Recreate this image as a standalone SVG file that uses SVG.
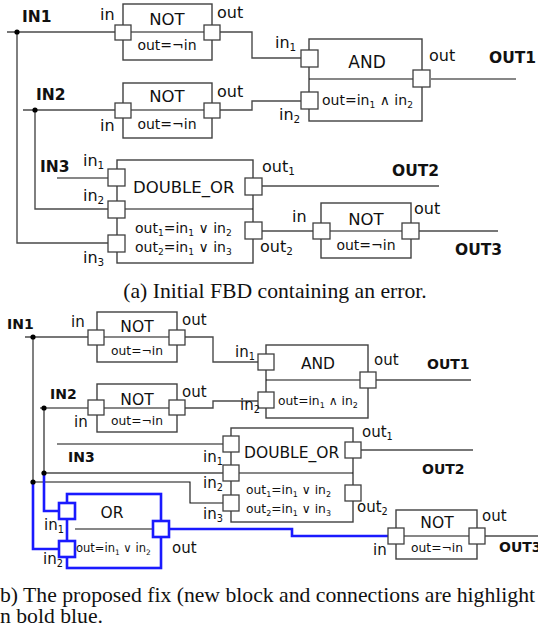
<svg xmlns="http://www.w3.org/2000/svg" width="538" height="631" viewBox="0 0 538 631">
<style>
.blk{fill:#fff;stroke:#404040;stroke-width:1.4}
.bblk{fill:none;stroke:#1a1aff;stroke-width:2.6}
.port{fill:#fff;stroke:#404040;stroke-width:1.3}
.bport{fill:#fff;stroke:#1a1aff;stroke-width:2.6}
.w{fill:none;stroke:#4a4a4a;stroke-width:1.4}
.k{fill:none;stroke:#111;stroke-width:1.1}
.bw{fill:none;stroke:#1a1aff;stroke-width:2.6}
.dot{fill:#000}
text{font-family:"DejaVu Sans","Liberation Sans",Arial,sans-serif;fill:#111}
.l{font-size:16px}
.n{font-size:16.5px}
.e{font-size:14px}
.io{font-size:15.5px;font-weight:bold}
.lb{font-size:15px}
.nb{font-size:15.5px}
.eb{font-size:12.3px}
.iob{font-size:14px;font-weight:bold}
.s{font-size:65%}
.m{text-anchor:middle}
.cap{font-family:"Liberation Serif","Times New Roman",serif;font-size:21.7px}
</style>

<g id="connectors">
  <!-- panel a -->
  <path class="w" d="M7,32 H115"/>
  <path class="w" d="M17,32 V243 H108"/>
  <path class="w" d="M220,32 H252 V58 H301"/>
  <path class="w" d="M23,110 H115"/>
  <path class="w" d="M35,110 V209 H108"/>
  <path class="w" d="M220,110 H252 V101 H301"/>
  <path class="k" d="M57,178 H108"/>
  <path class="k" d="M431,79 H516"/>
  <path class="w" d="M262,186 H439"/>
  <path class="w" d="M262,231 H313"/>
  <path class="w" d="M419,231 H498"/>
  <circle class="dot" cx="17" cy="32" r="2.6"/>
  <circle class="dot" cx="35" cy="110" r="2.6"/>
  <!-- panel b -->
  <path class="w" d="M25,337 H88"/>
  <path class="w" d="M33,337 V482"/>
  <path class="k" d="M33,482 H190 V503 H223"/>
  <path class="bw" d="M33,482 V549 H59"/>
  <path class="k" d="M40,408 H88"/>
  <path class="k" d="M44,408 V473"/>
  <path class="w" d="M44,473 H223"/>
  <path class="bw" d="M44,473 V511 H59"/>
  <path class="w" d="M185,337 H213 V362 H258"/>
  <path class="w" d="M185,408 H213 V401 H258"/>
  <path class="k" d="M57,444 H223"/>
  <path class="w" d="M376,380 H471"/>
  <path class="w" d="M361,450 H473"/>
  <path class="bw" d="M168,529 H292 V536 H388"/>
  <path class="w" d="M485,536 H538"/>
  <circle class="dot" cx="33" cy="337" r="2.6"/>
  <circle class="dot" cx="33" cy="482" r="2.6"/>
  <circle class="dot" cx="44" cy="408" r="2.6"/>
  <circle class="dot" cx="44" cy="473" r="2.6"/>
</g>

<!-- ===== Panel (a) ===== -->
<g id="a-io-labels">
  <text class="io" x="22" y="22">IN1</text>
  <text class="io" x="36" y="100">IN2</text>
  <text class="io" x="40" y="172">IN3</text>
  <text class="io" x="489" y="63">OUT1</text>
  <text class="io" x="392" y="176">OUT2</text>
  <text class="io" x="455" y="255">OUT3</text>
</g>

<g id="a-not1">
  <rect class="blk" x="123" y="4" width="89" height="56"/>
  <path class="k" d="M131,32 H204"/>
  <rect class="port" x="115" y="25" width="16" height="15"/>
  <rect class="port" x="204" y="25" width="16" height="15"/>
  <text class="n m" x="167" y="25">NOT</text>
  <text class="e m" x="167" y="50">out=¬in</text>
  <text class="l" x="100" y="20">in</text>
  <text class="l" x="217" y="18">out</text>
</g>

<g id="a-not2">
  <rect class="blk" x="123" y="83" width="89" height="55"/>
  <path class="k" d="M131,110 H204"/>
  <rect class="port" x="115" y="103" width="16" height="15"/>
  <rect class="port" x="204" y="103" width="16" height="15"/>
  <text class="n m" x="167" y="102">NOT</text>
  <text class="e m" x="167" y="129">out=¬in</text>
  <text class="l" x="100" y="131">in</text>
  <text class="l" x="217" y="97">out</text>
</g>

<g id="a-and">
  <rect class="blk" x="309" y="39" width="113" height="82"/>
  <path class="k" d="M309,79 H413"/>
  <rect class="port" x="301" y="50" width="17" height="17"/>
  <rect class="port" x="301" y="92" width="17" height="17"/>
  <rect class="port" x="413" y="70" width="17" height="17"/>
  <text class="n m" x="367" y="68" style="font-size:17px">AND</text>
  <text class="e" x="322" y="105">out=in<tspan class="s" dy="3">1</tspan><tspan dy="-3"> ∧ in</tspan><tspan class="s" dy="3">2</tspan></text>
  <text class="l" x="275" y="48">in<tspan class="s" dy="3">1</tspan></text>
  <text class="l" x="279" y="120">in<tspan class="s" dy="3">2</tspan></text>
  <text class="l" x="429" y="61">out</text>
</g>

<g id="a-double-or">
  <rect class="blk" x="117" y="160" width="136" height="103"/>
  <path class="k" d="M125,209 H253"/>
  <rect class="port" x="108" y="169" width="17" height="17"/>
  <rect class="port" x="108" y="201" width="17" height="17"/>
  <rect class="port" x="108" y="235" width="17" height="17"/>
  <rect class="port" x="245" y="178" width="17" height="17"/>
  <rect class="port" x="245" y="222" width="17" height="17"/>
  <text class="n" x="133" y="193">DOUBLE_OR</text>
  <text class="e" x="135" y="233">out<tspan class="s" dy="3">1</tspan><tspan dy="-3">=in</tspan><tspan class="s" dy="3">1</tspan><tspan dy="-3"> ∨ in</tspan><tspan class="s" dy="3">2</tspan></text>
  <text class="e" x="135" y="252">out<tspan class="s" dy="3">2</tspan><tspan dy="-3">=in</tspan><tspan class="s" dy="3">1</tspan><tspan dy="-3"> ∨ in</tspan><tspan class="s" dy="3">3</tspan></text>
  <text class="l" x="83" y="166">in<tspan class="s" dy="3">1</tspan></text>
  <text class="l" x="83" y="201">in<tspan class="s" dy="3">2</tspan></text>
  <text class="l" x="83" y="263">in<tspan class="s" dy="3">3</tspan></text>
  <text class="l" x="262" y="172">out<tspan class="s" dy="3">1</tspan></text>
  <text class="l" x="260" y="252">out<tspan class="s" dy="3">2</tspan></text>
</g>

<g id="a-not3">
  <rect class="blk" x="321" y="203" width="90" height="55"/>
  <path class="k" d="M329,231 H402"/>
  <rect class="port" x="313" y="223" width="17" height="16"/>
  <rect class="port" x="402" y="223" width="17" height="16"/>
  <text class="n m" x="366" y="225">NOT</text>
  <text class="e m" x="366" y="250">out=¬in</text>
  <text class="l" x="292" y="222">in</text>
  <text class="l" x="414" y="214">out</text>
</g>

<g id="caption-a">
  <text class="cap m" x="275" y="298">(a) Initial FBD containing an error.</text>
</g>

<!-- ===== Panel (b) ===== -->
<g id="b-io-labels">
  <text class="iob" x="7" y="329">IN1</text>
  <text class="iob" x="50" y="399">IN2</text>
  <text class="iob" x="68" y="462">IN3</text>
  <text class="iob" x="427" y="369">OUT1</text>
  <text class="iob" x="422" y="474">OUT2</text>
  <text class="iob" x="499" y="552">OUT3</text>
</g>

<g id="b-not1">
  <rect class="blk" x="97" y="312" width="80" height="50"/>
  <path class="k" d="M104,337 H169"/>
  <rect class="port" x="88" y="330" width="16" height="15"/>
  <rect class="port" x="169" y="330" width="16" height="15"/>
  <text class="nb m" x="137" y="332">NOT</text>
  <text class="eb m" x="137" y="355">out=¬in</text>
  <text class="lb" x="71" y="327">in</text>
  <text class="lb" x="182" y="325">out</text>
</g>

<g id="b-not2">
  <rect class="blk" x="97" y="384" width="80" height="48"/>
  <path class="k" d="M104,408 H169"/>
  <rect class="port" x="88" y="400" width="16" height="15"/>
  <rect class="port" x="169" y="400" width="16" height="15"/>
  <text class="nb m" x="137" y="405">NOT</text>
  <text class="eb m" x="137" y="425">out=¬in</text>
  <text class="lb" x="74" y="427">in</text>
  <text class="lb" x="182" y="397">out</text>
</g>

<g id="b-and">
  <rect class="blk" x="266" y="345" width="102" height="73"/>
  <path class="k" d="M266,380 H360"/>
  <rect class="port" x="258" y="354" width="16" height="16"/>
  <rect class="port" x="258" y="392" width="16" height="16"/>
  <rect class="port" x="360" y="372" width="16" height="16"/>
  <text class="nb m" x="318" y="369">AND</text>
  <text class="eb" x="278" y="405">out=in<tspan class="s" dy="3">1</tspan><tspan dy="-3"> ∧ in</tspan><tspan class="s" dy="3">2</tspan></text>
  <text class="lb" x="235" y="357">in<tspan class="s" dy="3">1</tspan></text>
  <text class="lb" x="240" y="410">in<tspan class="s" dy="3">2</tspan></text>
  <text class="lb" x="374" y="365">out</text>
</g>

<g id="b-double-or">
  <rect class="blk" x="231" y="428" width="122" height="94"/>
  <path class="k" d="M239,473 H353"/>
  <rect class="port" x="223" y="436" width="16" height="16"/>
  <rect class="port" x="223" y="465" width="16" height="16"/>
  <rect class="port" x="223" y="495" width="16" height="16"/>
  <rect class="port" x="345" y="442" width="16" height="16"/>
  <rect class="port" x="345" y="485" width="16" height="16"/>
  <text class="nb" x="244" y="458">DOUBLE_OR</text>
  <text class="eb" x="246" y="494">out<tspan class="s" dy="3">1</tspan><tspan dy="-3">=in</tspan><tspan class="s" dy="3">1</tspan><tspan dy="-3"> ∨ in</tspan><tspan class="s" dy="3">2</tspan></text>
  <text class="eb" x="246" y="513">out<tspan class="s" dy="3">2</tspan><tspan dy="-3">=in</tspan><tspan class="s" dy="3">1</tspan><tspan dy="-3"> ∨ in</tspan><tspan class="s" dy="3">3</tspan></text>
  <text class="lb" x="203" y="462">in<tspan class="s" dy="3">1</tspan></text>
  <text class="lb" x="203" y="488">in<tspan class="s" dy="3">2</tspan></text>
  <text class="lb" x="203" y="519">in<tspan class="s" dy="3">3</tspan></text>
  <text class="lb" x="362" y="437">out<tspan class="s" dy="3">1</tspan></text>
  <text class="lb" x="357" y="512">out<tspan class="s" dy="3">2</tspan></text>
</g>

<g id="b-or">
  <rect class="bblk" x="67" y="494" width="94" height="74"/>
  <path class="k" d="M75,529 H153"/>
  <rect class="bport" x="59" y="503" width="16" height="16"/>
  <rect class="bport" x="59" y="541" width="16" height="16"/>
  <rect class="bport" x="153" y="521" width="16" height="16"/>
  <text class="nb m" x="112" y="518">OR</text>
  <text class="eb" x="76" y="552" style="font-size:11.5px">out=in<tspan class="s" dy="3">1</tspan><tspan dy="-3"> ∨ in</tspan><tspan class="s" dy="3">2</tspan></text>
  <text class="lb" x="44" y="530">in<tspan class="s" dy="3">1</tspan></text>
  <text class="lb" x="43" y="564">in<tspan class="s" dy="3">2</tspan></text>
  <text class="lb" x="172" y="553">out</text>
</g>

<g id="b-not3">
  <rect class="blk" x="396" y="510" width="81" height="49"/>
  <path class="k" d="M404,536 H469"/>
  <rect class="port" x="388" y="528" width="16" height="16"/>
  <rect class="port" x="469" y="528" width="16" height="16"/>
  <text class="nb m" x="437" y="528">NOT</text>
  <text class="eb m" x="437" y="552">out=¬in</text>
  <text class="lb" x="373" y="555">in</text>
  <text class="lb" x="482" y="521">out</text>
</g>

<g id="caption-b">
  <text class="cap" x="0" y="602">b) The proposed fix (new block and connections are highlight</text>
  <text class="cap" x="0" y="623">n bold blue.</text>
</g>
</svg>
